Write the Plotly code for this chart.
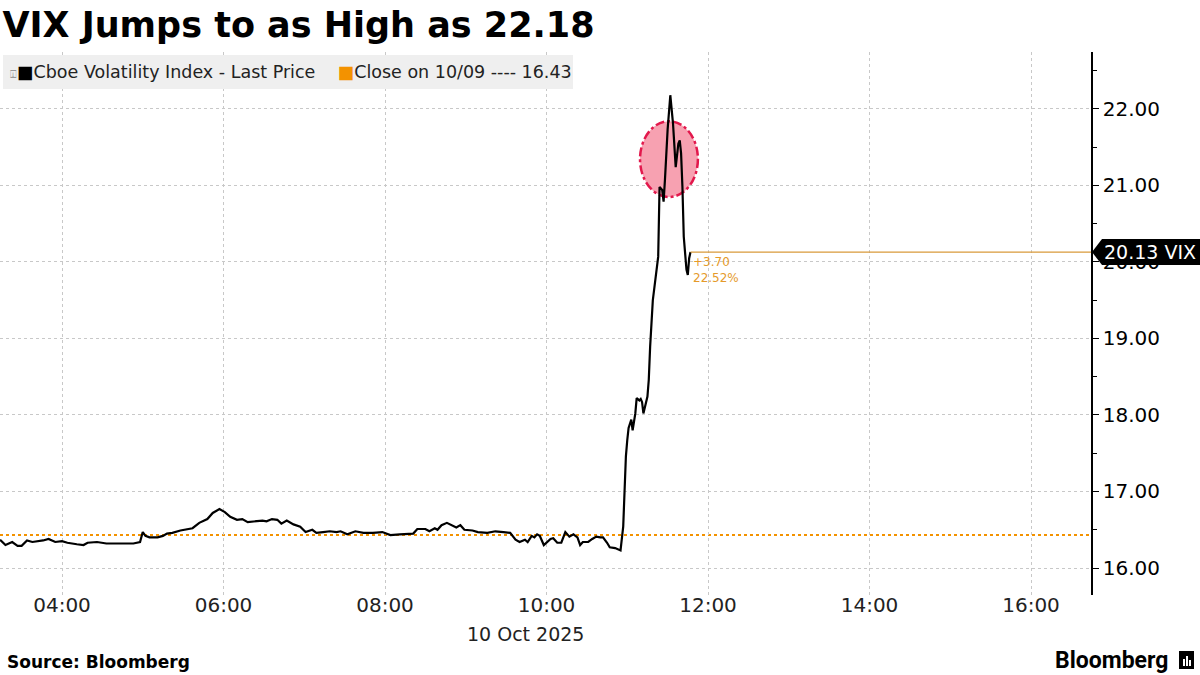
import plotly.graph_objects as go

DATE = "2025-10-10"

times = [
    "03:14", "03:18", "03:23", "03:27", "03:30", "03:34", "03:38", "03:46", "03:50", "03:55",
    "04:00", "04:04", "04:11", "04:16", "04:19", "04:26", "04:33", "04:43", "04:53", "04:58",
    "05:00", "05:02", "05:05", "05:11", "05:15", "05:18", "05:22", "05:28", "05:33", "05:37",
    "05:42", "05:48", "05:52", "05:57", "06:01", "06:05", "06:10", "06:14", "06:18", "06:25",
    "06:29", "06:32", "06:36", "06:40", "06:43", "06:47", "06:52", "06:57", "07:01", "07:06",
    "07:09", "07:14", "07:19", "07:24", "07:27", "07:32", "07:38", "07:44", "07:51", "07:58",
    "08:04", "08:11", "08:21", "08:24", "08:30", "08:33", "08:37", "08:39", "08:42", "08:46",
    "08:50", "08:53", "08:56", "08:59", "09:05", "09:09", "09:16", "09:22", "09:28", "09:33",
    "09:37", "09:40", "09:44", "09:46", "09:49", "09:51", "09:53", "09:55", "09:58", "10:03",
    "10:05", "10:08", "10:11", "10:14", "10:17", "10:20", "10:23", "10:25", "10:27", "10:31",
    "10:34", "10:37", "10:40", "10:42", "10:45", "10:47", "10:51", "10:53", "10:55", "10:57",
    "10:58", "10:59", "11:00", "11:01", "11:03", "11:04", "11:06", "11:07", "11:09", "11:10",
    "11:11", "11:12", "11:15", "11:16", "11:17", "11:19", "11:23", "11:24", "11:26", "11:27",
    "11:28", "11:30", "11:32", "11:34", "11:36", "11:38", "11:39", "11:40", "11:41", "11:42",
    "11:44", "11:45", "11:46", "11:47",
]

vix = [
    16.37, 16.30, 16.34, 16.29, 16.29, 16.36, 16.34, 16.36, 16.38, 16.34,
    16.35, 16.33, 16.31, 16.30, 16.33, 16.34, 16.32, 16.32, 16.32, 16.34,
    16.47, 16.42, 16.40, 16.40, 16.42, 16.45, 16.46, 16.49, 16.51, 16.52,
    16.59, 16.64, 16.72, 16.77, 16.73, 16.67, 16.63, 16.64, 16.60, 16.61,
    16.62, 16.61, 16.64, 16.63, 16.58, 16.62, 16.57, 16.54, 16.47, 16.50,
    16.46, 16.47, 16.48, 16.47, 16.48, 16.44, 16.48, 16.46, 16.46, 16.47,
    16.43, 16.44, 16.45, 16.51, 16.51, 16.48, 16.52, 16.50, 16.56, 16.59,
    16.55, 16.53, 16.56, 16.50, 16.49, 16.47, 16.46, 16.48, 16.47, 16.46,
    16.37, 16.34, 16.37, 16.34, 16.42, 16.40, 16.44, 16.42, 16.30, 16.38,
    16.39, 16.33, 16.33, 16.47, 16.41, 16.44, 16.40, 16.30, 16.34, 16.34,
    16.38, 16.41, 16.40, 16.40, 16.33, 16.27, 16.26, 16.24, 16.23, 16.54,
    17.06, 17.46, 17.67, 17.83, 17.94, 17.80, 18.02, 18.22, 18.19, 18.21,
    18.17, 18.02, 18.24, 18.46, 18.89, 19.50, 20.07, 20.98, 20.94, 20.79,
    21.07, 21.73, 22.18, 21.81, 21.24, 21.55, 21.59, 21.42, 20.98, 20.33,
    19.90, 19.83, 20.05, 20.13,
]

prev_close = 16.43
last_price = 20.13
change_abs = "+3.70"
change_pct = "22.52%"
y_ticks = [16, 17, 18, 19, 20, 21, 22]
title_text = "VIX Jumps to as High as 22.18"
legend_main = "Cboe Volatility Index - Last Price"
legend_close = "Close on 10/09 ---- 16.43"
date_label = "10 Oct 2025"
source_text = "Source: Bloomberg"

x = [f"{DATE} {t}" for t in times]

# layout geometry (pixels)
W, H = 1200, 675
ML, MR, MT, MB = 0, 109, 52, 80
PW = W - ML - MR
PH = H - MT - MB


def px(xp):
    return (xp - ML) / PW


def py(yp):
    return (H - MB - yp) / PH


FONT = "DejaVu Sans, Verdana, sans-serif"
ORANGE = "#f39200"
GOLD = "#d99a3a"
Y_RANGE = [15.647, 22.745]

fig = go.Figure()
fig.add_trace(go.Scatter(
    x=x, y=vix, mode="lines",
    line=dict(color="black", width=2.2),
    showlegend=False, hoverinfo="skip",
))

# triangular tick markers on the right axis (pixel-based helper axis)
fig.add_trace(go.Scatter(
    x=[PW + 3.5] * len(y_ticks), y=y_ticks, xaxis="x2", yaxis="y",
    mode="markers", marker=dict(symbol="triangle-right", size=7, color="black"),
    cliponaxis=False, showlegend=False, hoverinfo="skip",
))

x_range = [f"{DATE} 03:13:56", f"{DATE} 16:44:35"]

shapes = [
    dict(type="line", xref="paper", yref="y", x0=0, x1=1, y0=prev_close, y1=prev_close,
         line=dict(color=ORANGE, width=2, dash="dot"), layer="between"),
    dict(type="line", xref="x", yref="y", x0=x[-1], x1=x_range[1], y0=last_price, y1=last_price,
         line=dict(color=GOLD, width=1.3), layer="above"),
    dict(type="circle", xref="x", yref="y",
         x0=f"{DATE} 11:09:30", x1=f"{DATE} 11:52:30", y0=20.85, y1=21.84,
         fillcolor="#f7a1b1", line=dict(color="#e2184c", width=2.5, dash="dashdot"),
         layer="between"),
    dict(type="rect", xref="paper", yref="paper", x0=px(3), x1=px(573), y0=py(89), y1=py(55),
         fillcolor="#efefef", line=dict(width=0), layer="above"),
    dict(type="path", xref="paper", yref="y",
         path=(f"M {px(1092)} {last_price} L {px(1102)} {last_price + 0.17} "
               f"L {px(1200)} {last_price + 0.17} L {px(1200)} {last_price - 0.17} "
               f"L {px(1102)} {last_price - 0.17} Z"),
         fillcolor="black", line=dict(width=0), layer="above"),
    # bloomberg icon
    dict(type="rect", xref="paper", yref="paper", x0=px(1179), x1=px(1194), y0=py(669), y1=py(651),
         fillcolor="black", line=dict(width=0), layer="above"),
    dict(type="rect", xref="paper", yref="paper", x0=px(1183), x1=px(1185), y0=py(666), y1=py(659),
         fillcolor="white", line=dict(width=0), layer="above"),
    dict(type="rect", xref="paper", yref="paper", x0=px(1186), x1=px(1188), y0=py(666), y1=py(656),
         fillcolor="white", line=dict(width=0), layer="above"),
    dict(type="rect", xref="paper", yref="paper", x0=px(1189), x1=px(1191), y0=py(666), y1=py(660),
         fillcolor="white", line=dict(width=0), layer="above"),
]

annotations = [
    dict(xref="paper", yref="paper", x=px(8), y=py(72), xanchor="left", yanchor="middle",
         text=(f"<span style='color:#999;font-size:11px'>⍗</span><span style='color:black'>■</span>{legend_main}    "
               f"<span style='color:{ORANGE}'>■</span>{legend_close}"),
         showarrow=False, font=dict(family=FONT, size=17.5, color="#222")),
    dict(xref="x", yref="y", x=x[-1], y=last_price, xanchor="left", yanchor="top",
         text=f"{change_abs}<br>{change_pct}", showarrow=False, xshift=0, yshift=-1,
         align="left", font=dict(family=FONT, size=12, color="#e59a2a")),
    dict(xref="paper", yref="y", x=px(1150), y=last_price, xanchor="center", yanchor="middle",
         text=f"{last_price:.2f} VIX", showarrow=False,
         font=dict(family=FONT, size=19, color="white")),
    dict(xref="paper", yref="paper", x=px(525), y=py(634), xanchor="center", yanchor="middle",
         text=date_label, showarrow=False, font=dict(family=FONT, size=19, color="#222")),
    dict(xref="paper", yref="paper", x=px(5), y=py(662), xanchor="left", yanchor="middle",
         text=f"<b>{source_text}</b>", showarrow=False, font=dict(family=FONT, size=17, color="black")),
    dict(xref="paper", yref="paper", x=px(1170), y=py(660), xanchor="right", yanchor="middle",
         text="<b>Bloomberg</b>", showarrow=False,
         font=dict(family="Roboto, sans-serif", size=23, color="black")),
]

fig.update_layout(
    width=W, height=H,
    margin=dict(l=ML, r=MR, t=MT, b=MB),
    paper_bgcolor="white", plot_bgcolor="white",
    title=dict(text=f"<b>{title_text}</b>", x=0.002, xref="container", xanchor="left",
               y=1 - 25 / H, yref="container", yanchor="middle",
               font=dict(family=FONT, size=35, color="black")),
    showlegend=False,
    shapes=shapes,
    annotations=annotations,
    xaxis=dict(
        type="date", range=x_range,
        tick0=f"{DATE} 04:00", dtick=7200000, tickformat="%H:%M",
        showgrid=True, gridcolor="#c8c8c8", griddash="dot", gridwidth=1,
        showline=False, zeroline=False,
        ticks="", ticklabelstandoff=-4,
        tickfont=dict(family=FONT, size=20, color="#222"),
    ),
    xaxis2=dict(range=[0, PW], overlaying="x", visible=False, fixedrange=True),
    yaxis=dict(
        side="right", range=Y_RANGE,
        tickvals=y_ticks, tickformat=".2f",
        showgrid=True, gridcolor="#c8c8c8", griddash="dot", gridwidth=1,
        showline=True, linecolor="black", linewidth=1.5,
        zeroline=False,
        ticks="outside", ticklen=6, tickcolor="black", tickwidth=1,
        minor=dict(tickvals=[v + 0.5 for v in y_ticks[:-1]] + [15.5, 22.5],
                   ticks="outside", ticklen=4, tickcolor="black", showgrid=False),
        tickfont=dict(family=FONT, size=20, color="black"),
    ),
)

fig.write_html("out.html", config={"displayModeBar": False},
               post_script="document.body.style.margin='0';document.body.style.padding='0';")
